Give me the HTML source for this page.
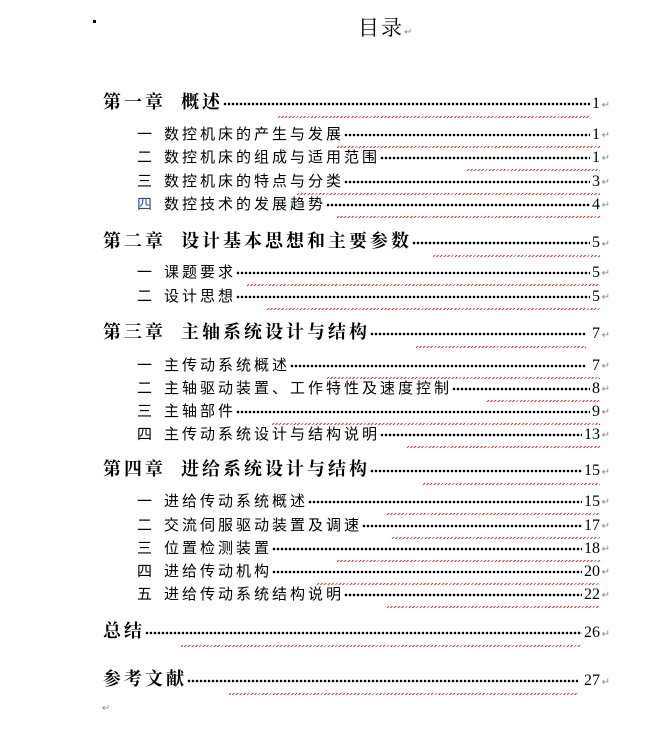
<!DOCTYPE html>
<html><head><meta charset="utf-8"><style>
body{margin:0;width:672px;height:751px;background:#fff;position:relative;overflow:hidden;font-family:"Liberation Sans","Noto Sans CJK SC",sans-serif}
.r{position:absolute;display:flex;align-items:baseline;white-space:nowrap;right:72px}
.c{font-family:"Liberation Serif","Noto Serif CJK SC",serif;font-weight:bold;font-size:18px;letter-spacing:3px;color:#000}
.s{font-size:15px;letter-spacing:3px;color:#000}
.l{flex:1;height:4px;position:relative;top:-2px;margin:0 2px 0 0;background:radial-gradient(circle,#000 1.1px,transparent 1.5px) 0 0/4px 4px repeat-x}
.n{font-family:"Liberation Serif",serif;font-size:16px;letter-spacing:0;font-weight:normal}
.ret{position:absolute;right:-10px;bottom:3px;font-size:10px;color:#888;letter-spacing:0;font-weight:normal}
.w{position:absolute;height:2px;bottom:-4px;right:0;background:repeating-linear-gradient(135deg,transparent 0 0.8px,#e33 0.8px 1.8px,transparent 1.8px 2.6px);}
.num{display:inline-block;width:27px}
.blue{color:#1f4ea0}
</style></head><body>
<div style="position:absolute;left:93px;top:20px;width:3px;height:3px;background:#000"></div>
<div style="position:absolute;left:358px;top:12px;font-family:'Liberation Serif','Noto Serif CJK SC',serif;font-size:21px;letter-spacing:2px">目录<span style="font-size:10px;color:#888">↵</span></div>

<div class="r c" style="left:103px;top:88px">第一章&nbsp; 概述<span class="l"></span><span class="n">1</span><span class="ret">↵</span><div class="w" style="left:175px;right:10px"></div></div>
<div class="r s" style="left:137px;top:123px"><span class="num">一</span>数控机床的产生与发展<span class="l"></span><span class="n">1</span><span class="ret">↵</span><div class="w" style="left:200px"></div></div>
<div class="r s" style="left:137px;top:146px"><span class="num">二</span>数控机床的组成与适用范围<span class="l"></span><span class="n">1</span><span class="ret">↵</span><div class="w" style="left:330px"></div></div>
<div class="r s" style="left:137px;top:170px"><span class="num">三</span>数控机床的特点与分类<span class="l"></span><span class="n">3</span><span class="ret">↵</span><div class="w" style="left:160px"></div></div>
<div class="r s" style="left:137px;top:193px"><span class="num blue">四</span>数控技术的发展趋势<span class="l"></span><span class="n">4</span><span class="ret">↵</span><div class="w" style="left:200px"></div></div>

<div class="r c" style="left:103px;top:227px">第二章&nbsp; 设计基本思想和主要参数<span class="l"></span><span class="n">5</span><span class="ret">↵</span><div class="w" style="left:330px"></div></div>
<div class="r s" style="left:137px;top:261px"><span class="num">一</span>课题要求<span class="l"></span><span class="n">5</span><span class="ret">↵</span><div class="w" style="left:110px"></div></div>
<div class="r s" style="left:137px;top:285px"><span class="num">二</span>设计思想<span class="l"></span><span class="n">5</span><span class="ret">↵</span><div class="w" style="left:130px"></div></div>

<div class="r c" style="left:103px;top:318px">第三章&nbsp; 主轴系统设计与结构<span class="l"></span><span class="n">&nbsp;7</span><span class="ret">↵</span><div class="w" style="left:313px;right:14px"></div></div>
<div class="r s" style="left:137px;top:354px"><span class="num">一</span>主传动系统概述<span class="l"></span><span class="n">&nbsp;7</span><span class="ret">↵</span><div class="w" style="left:190px"></div></div>
<div class="r s" style="left:137px;top:377px"><span class="num">二</span>主轴驱动装置、工作特性及速度控制<span class="l"></span><span class="n">8</span><span class="ret">↵</span><div class="w" style="left:350px"></div></div>
<div class="r s" style="left:137px;top:400px"><span class="num">三</span>主轴部件<span class="l"></span><span class="n">9</span><span class="ret">↵</span><div class="w" style="left:135px"></div></div>
<div class="r s" style="left:137px;top:423px"><span class="num">四</span>主传动系统设计与结构说明<span class="l"></span><span class="n">13</span><span class="ret">↵</span><div class="w" style="left:270px"></div></div>

<div class="r c" style="left:103px;top:455px">第四章&nbsp; 进给系统设计与结构<span class="l"></span><span class="n">15</span><span class="ret">↵</span><div class="w" style="left:320px"></div></div>
<div class="r s" style="left:137px;top:490px"><span class="num">一</span>进给传动系统概述<span class="l"></span><span class="n">15</span><span class="ret">↵</span><div class="w" style="left:250px"></div></div>
<div class="r s" style="left:137px;top:514px"><span class="num">二</span>交流伺服驱动装置及调速<span class="l"></span><span class="n">17</span><span class="ret">↵</span><div class="w" style="left:255px"></div></div>
<div class="r s" style="left:137px;top:537px"><span class="num">三</span>位置检测装置<span class="l"></span><span class="n">18</span><span class="ret">↵</span><div class="w" style="left:200px"></div></div>
<div class="r s" style="left:137px;top:560px"><span class="num">四</span>进给传动机构<span class="l"></span><span class="n">20</span><span class="ret">↵</span><div class="w" style="left:180px"></div></div>
<div class="r s" style="left:137px;top:583px"><span class="num">五</span>进给传动系统结构说明<span class="l"></span><span class="n">22</span><span class="ret">↵</span><div class="w" style="left:250px"></div></div>

<div class="r c" style="left:103px;top:617px">总结<span class="l"></span><span class="n">26</span><span class="ret">↵</span><div class="w" style="left:78px;right:20px"></div></div>
<div class="r c" style="left:103px;top:665px">参考文献<span class="l"></span><span class="n">&nbsp;27</span><span class="ret">↵</span><div class="w" style="left:126px;right:22px"></div></div>
<div style="position:absolute;left:102px;top:703px;font-size:10px;color:#888">↵</div>
</body></html>
